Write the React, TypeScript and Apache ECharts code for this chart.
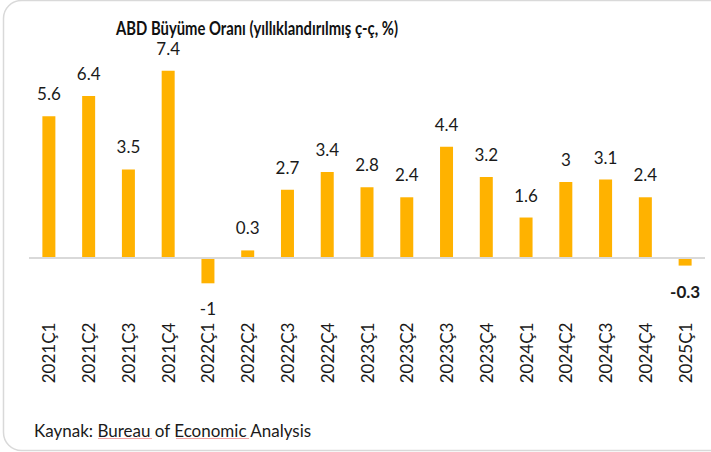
import React, { useEffect, useRef } from "react";
import * as echarts from "echarts";

const categories = [
  "2021Ç1", "2021Ç2", "2021Ç3", "2021Ç4",
  "2022Ç1", "2022Ç2", "2022Ç3", "2022Ç4",
  "2023Ç1", "2023Ç2", "2023Ç3", "2023Ç4",
  "2024Ç1", "2024Ç2", "2024Ç3", "2024Ç4",
  "2025Ç1",
];
const growth = [5.6, 6.4, 3.5, 7.4, -1, 0.3, 2.7, 3.4, 2.8, 2.4, 4.4, 3.2, 1.6, 3, 3.1, 2.4, -0.3];
const boldLabelIndex = [16];

const titleText = "ABD Büyüme Oranı (yıllıklandırılmış ç-ç, %)";
const sourceText = "Kaynak: Bureau of Economic Analysis";

const FONT = "Lato, 'Open Sans', sans-serif";

export default function App() {
  const ref = useRef<HTMLDivElement>(null);

  useEffect(() => {
    if (!ref.current) return;
    const chart = echarts.init(ref.current, undefined, { renderer: "svg" });

    const seriesData = growth.map((v, i) => ({
      value: v,
      label: {
        position: v < 0 ? "bottom" : "top",
        distance: v < 0 ? 17 : 14,
        fontWeight: boldLabelIndex.includes(i) ? "bold" : "normal",
      },
    }));

    chart.setOption({
      animation: false,
      backgroundColor: "#ffffff",
      grid: { left: 29, right: 6, top: 55.6, bottom: 143.4, containLabel: false },
      xAxis: {
        type: "category",
        data: categories,
        position: "bottom",
        axisLine: { show: false, onZero: false },
        axisTick: { show: false },
        axisLabel: {
          rotate: 90,
          fontSize: 17,
          color: "#1a1a1a",
          fontFamily: FONT,
          margin: 14,
          interval: 0,
        },
      },
      yAxis: {
        type: "value",
        min: -2,
        max: 8,
        interval: 1,
        show: false,
        splitLine: { show: false },
      },
      series: [
        {
          type: "bar",
          data: seriesData,
          barWidth: 13,
          itemStyle: { color: "#FFB200" },
          label: {
            show: true,
            fontSize: 17,
            color: "#1a1a1a",
            fontFamily: FONT,
          },
          markLine: {
            silent: true,
            symbol: ["none", "none"],
            label: { show: false },
            lineStyle: { color: "#d9d9d9", width: 2, type: "solid" },
            data: [{ yAxis: 0 }],
          },
        },
      ],
      graphic: [
        {
          type: "rect",
          shape: { x: 3.5, y: 0.5, width: 730, height: 450, r: 18 },
          style: { fill: "none", stroke: "#d9d9d9", lineWidth: 1.5 },
          silent: true,
          z: -1,
        },
        {
          type: "text",
          x: 257,
          y: 28,
          scaleX: 0.8,
          style: {
            text: titleText,
            fontSize: 18.5,
            fontWeight: "bold",
            fontFamily: FONT,
            fill: "#111111",
            align: "center",
            verticalAlign: "middle",
          },
        },
        {
          type: "text",
          x: 34,
          y: 430,
          style: {
            text: sourceText,
            fontSize: 17,
            fontFamily: FONT,
            fill: "#1a1a1a",
            align: "left",
            verticalAlign: "middle",
          },
        },
        {
          type: "line",
          shape: { x1: 98, y1: 438.5, x2: 152, y2: 438.5 },
          style: { stroke: "#f2a3a3", lineWidth: 1 },
          silent: true,
        },
        {
          type: "line",
          shape: { x1: 176, y1: 438.5, x2: 249, y2: 438.5 },
          style: { stroke: "#f2a3a3", lineWidth: 1 },
          silent: true,
        },
      ],
    });

    return () => chart.dispose();
  }, []);

  return (
    <div
      ref={ref}
      style={{ position: "fixed", left: 0, top: 0, width: 711, height: 452 }}
    />
  );
}
